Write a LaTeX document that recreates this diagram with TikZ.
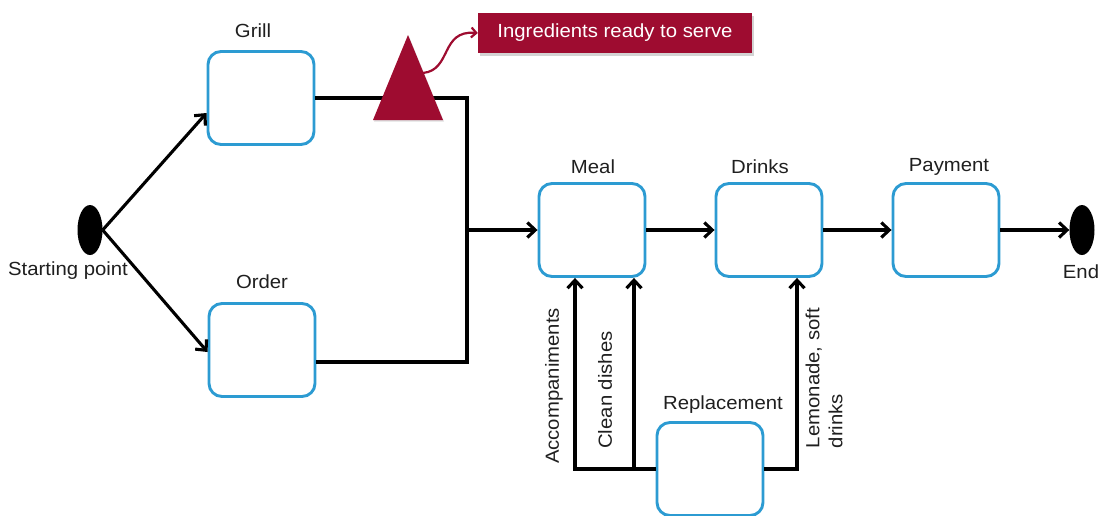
\documentclass[tikz,border=0pt]{standalone}
\usepackage{fontspec}
\setmainfont[FakeStretch=1.07]{Liberation Sans}
\usetikzlibrary{arrows.meta,shapes.geometric,shadows}
\definecolor{boxblue}{HTML}{2C9BD2}
\definecolor{wine}{HTML}{9E0C30}
\begin{document}
\begin{tikzpicture}[x=1pt,y=-1pt,
  state/.style={draw=boxblue, line width=2.9pt, rounded corners=13pt,
    minimum width=106pt, minimum height=93pt, fill=white, inner sep=0pt},
  lbl/.style={font=\fontsize{19}{23}\selectfont, text=black!88, inner sep=0pt},
  flow/.style={line width=3.1pt, -{Straight Barb[length=8pt,width=15pt]}},
  link/.style={line width=3.1pt},
  dot/.style={ellipse, fill=black, minimum width=25pt, minimum height=50pt, inner sep=0pt}]
\useasboundingbox (0,0) rectangle (1101,515);

% start / end markers
\node[dot] (start) at (90,230) {};
\node[dot] (end) at (1082,230) {};

% states
\node[state] (grill)  at (261,98)  {};
\node[state] (order)  at (262,350) {};
\node[state] (meal)   at (592,230) {};
\node[state] (drinks) at (769,230) {};
\node[state] (pay)    at (946,230) {};
\node[state] (repl)   at (710,469) {};

% state titles
\node[lbl] (lgrill)  at (253,31)  {Grill};
\node[lbl] (lorder)  at (262,282) {Order};
\node[lbl] (lmeal)   at (593,167) {Meal};
\node[lbl] (ldrinks) at (760,167) {Drinks};
\node[lbl] (lpay)    at (949,167) {Payment};
\node[lbl] (lrepl)   at (723,405) {Replacement};
\node[lbl] (lstart)  at (68,271)  {Starting point};
\node[lbl] (lend)    at (1081,272) {End};

% fork from the start
\draw[flow] (start.east) -- ([yshift=-15pt]grill.west);
\draw[flow] (start.east) -- ([yshift=-2pt]order.west);

% join of grill and order into meal
\coordinate (jt) at (467,98);
\coordinate (jb) at (467,362);
\draw[link] (grill.east) -- (jt) -- (jb) -- (jb -| order.east);
\draw[flow] (jt |- meal.west) -- (meal.west);

% marker on the grill line and its note
\path[fill=wine, drop shadow={shadow xshift=1pt, shadow yshift=-1.5pt, opacity=0.25}]
  (408,35) -- (443,120) -- (373,120) -- cycle;
\coordinate (trir) at (423,73);
\node[lbl, fill=wine, text=white, minimum width=274pt, minimum height=40pt,
  drop shadow={shadow xshift=2pt, shadow yshift=-3pt, opacity=0.35}]
  (ready) at (615,33) {Ingredients ready to serve};
\draw[wine, line width=2.2pt, -{Straight Barb[length=5pt,width=10pt]}]
  (trir) .. controls (452,70) and (440,30) .. (ready.west);

% main sequence
\draw[flow] (meal.east) -- (drinks.west);
\draw[flow] (drinks.east) -- (pay.west);
\draw[flow] (pay.east) -- (end.west);

% supplies from replacement
\coordinate (ba) at (575,469);
\coordinate (bc) at (634,469);
\coordinate (bl) at (797,469);
\draw[flow] (repl.west) -- (ba) -- (ba |- meal.south);
\draw[flow] (bc) -- (bc |- meal.south);
\draw[flow] (repl.east) -- (bl) -- (bl |- drinks.south);

\node[lbl, rotate=90] (lacc) at (554,386) {Accompaniments};
\node[lbl, rotate=90] (lclean) at (605,390) {Clean dishes};
\node[lbl, rotate=90, align=left] (llem) at (824,378) {Lemonade, soft\\drinks};
\end{tikzpicture}
\end{document}
